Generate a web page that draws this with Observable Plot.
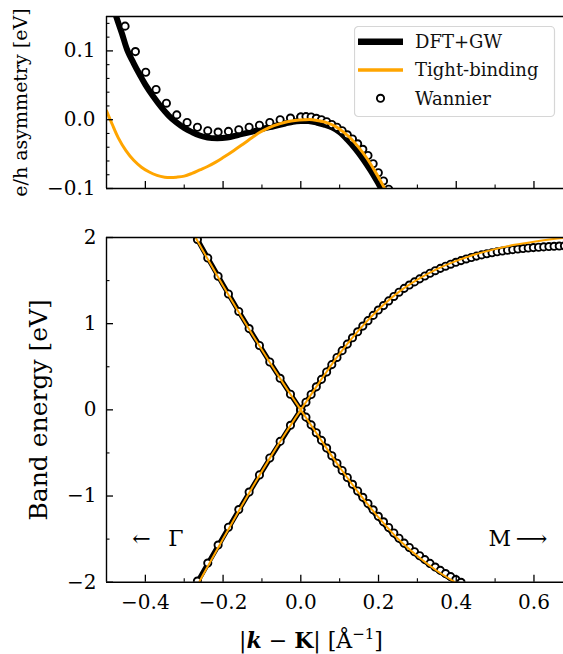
<!DOCTYPE html>
<html><head><meta charset="utf-8">
<script src="https://cdn.jsdelivr.net/npm/d3@7"></script>
<script src="https://cdn.jsdelivr.net/npm/@observablehq/plot@0.6"></script>
<style>
html,body{margin:0;padding:0;background:#fff;}
#wrap{position:relative;width:563px;height:654px;overflow:hidden;font-family:'DejaVu Serif',serif;}
#top{position:absolute;left:0;top:0;}
#bot{position:absolute;left:0;top:205px;}
#legend{position:absolute;left:354px;top:26px;}
svg text{font-family:'DejaVu Serif',serif;}
</style></head><body>
<div id="wrap"><div id="top"></div><div id="bot"></div><div id="legend"></div></div>
<script>
// ---------- axes ----------
const xDomain = [-0.5, 0.676];
const xMajor = [-0.4, -0.2, 0, 0.2, 0.4, 0.6];
const xMinor = [-0.3, -0.1, 0.1, 0.3, 0.5];
const asymDomain = [-0.1, 0.15];
const asymMajor = [-0.1, 0, 0.1];
const asymMinor = [-0.08, -0.06, -0.04, -0.02, 0.02, 0.04, 0.06, 0.08, 0.12, 0.14];
const bandDomain = [-2, 2];
const bandMajor = [-2, -1, 0, 1, 2];
const bandMinor = [-1.5, -0.5, 0.5, 1.5];
const seriesNames = ["DFT+GW", "Tight-binding", "Wannier"];

// ---------- top panel: e/h asymmetry ----------
const kAsymDft = [-0.49,-0.475,-0.46,-0.447,-0.43,-0.415,-0.40,-0.38,-0.36,-0.34,-0.32,-0.30,-0.28,-0.26,-0.24,-0.215,-0.19,-0.16,-0.13,-0.10,-0.07,-0.04,-0.02,0,0.02,0.04,0.06,0.08,0.10,0.12,0.14,0.16,0.18,0.20,0.22,0.24];
const asymDft = [0.178,0.150,0.125,0.102,0.082,0.066,0.051,0.034,0.019,0.006,-0.004,-0.012,-0.018,-0.023,-0.026,-0.027,-0.026,-0.022,-0.018,-0.0135,-0.0095,-0.0055,-0.003,-0.002,-0.002,-0.004,-0.007,-0.011,-0.018,-0.029,-0.042,-0.057,-0.074,-0.093,-0.113,-0.134];
const kAsymTb = [-0.50,-0.485,-0.47,-0.45,-0.43,-0.41,-0.39,-0.37,-0.35,-0.336,-0.32,-0.30,-0.28,-0.26,-0.24,-0.22,-0.20,-0.173,-0.15,-0.125,-0.104,-0.08,-0.055,-0.035,-0.015,0.01,0.03,0.05,0.07,0.09,0.11,0.13,0.15,0.17,0.19,0.21,0.23];
const asymTb = [0.013,-0.007,-0.026,-0.045,-0.059,-0.069,-0.076,-0.081,-0.0835,-0.084,-0.0835,-0.082,-0.078,-0.073,-0.068,-0.062,-0.055,-0.045,-0.036,-0.026,-0.018,-0.011,-0.006,-0.003,-0.001,0.0,0.0,-0.002,-0.005,-0.010,-0.018,-0.028,-0.041,-0.056,-0.074,-0.094,-0.114];
// Wannier k-points: K->Gamma side and K->M side
const kWanG = [0,-0.0266,-0.0532,-0.0798,-0.1064,-0.133,-0.1596,-0.1862,-0.2128,-0.2394,-0.266,-0.2926,-0.3192,-0.3458,-0.3724,-0.399,-0.4256,-0.4522,-0.4788];
const kWanM = [0,0.0133,0.0266,0.0399,0.0532,0.0665,0.0798,0.0931,0.1064,0.1197,0.133,0.1463,0.1596,0.1729,0.1862,0.1995,0.2128,0.2261,0.2394,0.2527,0.266,0.2793,0.2926,0.3059,0.3192,0.3325,0.3458,0.3591,0.3724,0.3857,0.399,0.4123,0.4256,0.4389,0.4522,0.4655,0.4788,0.4921,0.5054,0.5187,0.532,0.5453,0.5586,0.5719,0.5852,0.5985,0.6118,0.6251,0.6384,0.6517,0.665,0.6783];
const asymWanG = [0.004,0.0024,0.000,-0.004,-0.008,-0.011,-0.0145,-0.017,-0.018,-0.016,-0.011,-0.004,0.007,0.024,0.044,0.069,0.099,0.136,0.178];
const asymWanM = [0.004,0.0045,0.004,0.002,0.000,-0.003,-0.007,-0.011,-0.016,-0.022,-0.028,-0.035,-0.043,-0.052,-0.064,-0.077,-0.089,-0.101,-0.113];

// ---------- bottom panel: band energies ----------
const kBandG = [0,-0.04,-0.08,-0.12,-0.16,-0.20,-0.24,-0.28,-0.30];
const kBandM = [0,0.05,0.10,0.15,0.20,0.25,0.30,0.35,0.40,0.45,0.50,0.55,0.60,0.65,0.70];
const ecDftG = [0,0.274,0.556,0.847,1.145,1.452,1.767,2.09,2.255];
const evDftG = [0,-0.281,-0.568,-0.864,-1.167,-1.479,-1.793,-2.108,-2.267];
const ecDftM = [0,0.333,0.650,0.925,1.160,1.355,1.505,1.625,1.715,1.782,1.830,1.862,1.884,1.898,1.908];
const evDftM = [0,-0.339,-0.668,-0.974,-1.253,-1.495,-1.691,-1.855,-2.0,-2.13];
const ecTbG = [0,0.272,0.552,0.84,1.135,1.44,1.752,2.075,2.24];
const evTbG = [0,-0.275,-0.563,-0.864,-1.176,-1.495,-1.82,-2.153,-2.322];
const ecTbM = [0,0.334,0.652,0.928,1.164,1.36,1.51,1.632,1.728,1.805,1.865,1.915,1.952,1.982,2.005];
const evTbM = [0,-0.336,-0.666,-0.969,-1.248,-1.495,-1.695,-1.867,-2.008,-2.135];
const ecWanG = [0,0.181,0.366,0.555,0.747,0.943,1.142,1.345,1.551,1.762,1.976];
const evWanG = [0,-0.179,-0.366,-0.559,-0.755,-0.954,-1.157,-1.362,-1.569,-1.778,-1.987];
const ecWanM = [0,0.089,0.178,0.267,0.354,0.440,0.525,0.608,0.687,0.763,0.836,0.906,0.972,1.035,1.096,1.158,1.210,1.264,1.316,1.365,1.410,1.448,1.485,1.520,1.553,1.585,1.615,1.642,1.667,1.690,1.712,1.732,1.751,1.768,1.784,1.798,1.811,1.823,1.834,1.843,1.852,1.859,1.866,1.872,1.878,1.883,1.887,1.891,1.895,1.898,1.901,1.903];
const evWanM = [0,-0.0845,-0.174,-0.265,-0.354,-0.443,-0.532,-0.619,-0.703,-0.785,-0.864,-0.941,-1.015,-1.087,-1.160,-1.235,-1.299,-1.365,-1.429,-1.490,-1.547,-1.597,-1.646,-1.693,-1.738,-1.782,-1.824,-1.863,-1.900,-1.935,-1.969,-2.001];

// annotations (data coordinates)
const gammaLabel = {arrow: "←", name: "Γ", kArrow: -0.434, kName: -0.302, e: -1.5};
const mLabel = {name: "M", arrow: "⟶", kName: 0.483, kArrow: 0.634, e: -1.5};

// ---------- helpers ----------
const rows = (ks, es, branch) => es.map((e, i) => ({k: ks[i], e, branch}));
const black = "#000000", orange = "#FFA500";
const font = "'DejaVu Serif', serif";

const topDft = rows(kAsymDft, asymDft, "a");
const topTb = rows(kAsymTb, asymTb, "a");
const topWan = [...rows(kWanG, asymWanG, "g"), ...rows(kWanM, asymWanM, "m")];

const botDft = [...rows(kBandG, ecDftG, "cg"), ...rows(kBandM, ecDftM, "cm"), ...rows(kBandG, evDftG, "vg"), ...rows(kBandM, evDftM, "vm")];
const botTb = [...rows(kBandG, ecTbG, "cg"), ...rows(kBandM, ecTbM, "cm"), ...rows(kBandG, evTbG, "vg"), ...rows(kBandM, evTbM, "vm")];
const botWan = [...rows(kWanG, ecWanG, "cg"), ...rows(kWanM, ecWanM, "cm"), ...rows(kWanG, evWanG, "vg"), ...rows(kWanM, evWanM, "vm")];

const spine = {stroke: black, strokeWidth: 1.4};
const noText = () => "";

const topPlot = Plot.plot({
  width: 563, height: 205,
  marginTop: 16, marginBottom: 17, marginLeft: 106, marginRight: 0,
  style: {fontFamily: font, fontSize: "20px", background: "white", color: "black", overflow: "visible"},
  x: {domain: xDomain},
  y: {domain: asymDomain},
  marks: [
    Plot.line(topDft, {x: "k", y: "e", z: "branch", stroke: black, strokeWidth: 6, curve: "catmull-rom", clip: true}),
    Plot.dot(topWan, {x: "k", y: "e", r: 3.6, fill: "white", stroke: black, strokeWidth: 1.9, clip: true}),
    Plot.line(topTb, {x: "k", y: "e", z: "branch", stroke: orange, strokeWidth: 3, curve: "catmull-rom", clip: true}),
    Plot.ruleY([asymDomain[1]], spine),
    Plot.ruleY([asymDomain[0]], spine),
    Plot.ruleX([xDomain[0]], spine),
    Plot.axisY({ticks: asymMajor, tickSize: -7, tickPadding: 18, strokeWidth: 1.3, tickFormat: d3.format(".1f"), label: null}),
    Plot.axisY({ticks: asymMinor, tickSize: -3.5, strokeWidth: 1.1, tickFormat: noText, label: null}),
    Plot.axisX({ticks: xMajor, tickSize: -7, strokeWidth: 1.3, tickFormat: noText, label: null}),
    Plot.axisX({ticks: xMinor, tickSize: -3.5, strokeWidth: 1.1, tickFormat: noText, label: null}),
    Plot.text(["e/h asymmetry [eV]"], {text: d => d, frameAnchor: "left", textAnchor: "middle", lineAnchor: "middle", rotate: -90, dx: -85.5, fontSize: 19, fill: black})
  ]
});

const botPlot = Plot.plot({
  width: 563, height: 449,
  marginTop: 32, marginBottom: 72.3, marginLeft: 106, marginRight: 0,
  style: {fontFamily: font, fontSize: "20px", background: "white", color: "black", overflow: "visible"},
  x: {domain: xDomain},
  y: {domain: bandDomain},
  marks: [
    Plot.line(botDft, {x: "k", y: "e", z: "branch", stroke: black, strokeWidth: 5, curve: "catmull-rom", clip: true}),
    Plot.dot(botWan, {x: "k", y: "e", r: 3.6, fill: "white", stroke: black, strokeWidth: 1.9, clip: true}),
    Plot.line(botTb, {x: "k", y: "e", z: "branch", stroke: orange, strokeWidth: 2, curve: "catmull-rom", clip: true}),
    Plot.ruleY([bandDomain[1]], spine),
    Plot.ruleY([bandDomain[0]], spine),
    Plot.ruleX([xDomain[0]], spine),
    Plot.axisY({ticks: bandMajor, tickSize: -7, tickPadding: 17, strokeWidth: 1.3, tickFormat: d3.format("d"), label: null}),
    Plot.axisY({ticks: bandMinor, tickSize: -3.5, strokeWidth: 1.1, tickFormat: noText, label: null}),
    Plot.axisX({ticks: xMajor, tickSize: -7, tickPadding: 19.5, strokeWidth: 1.3, tickFormat: d3.format(".1f"), label: null}),
    Plot.axisX({ticks: xMinor, tickSize: -3.5, strokeWidth: 1.1, tickFormat: noText, label: null}),
    Plot.text(["Band energy [eV]"], {text: d => d, frameAnchor: "left", textAnchor: "middle", lineAnchor: "middle", rotate: -90, dx: -68, fontSize: 25, fill: black}),
    Plot.text([gammaLabel], {x: "kArrow", y: "e", text: "arrow", textAnchor: "start", fontSize: 22, fill: black}),
    Plot.text([gammaLabel], {x: "kName", y: "e", text: "name", textAnchor: "end", fontSize: 22, fill: black}),
    Plot.text([mLabel], {x: "kName", y: "e", text: "name", textAnchor: "start", fontSize: 22, fill: black}),
    Plot.text([mLabel], {x: "kArrow", y: "e", text: "arrow", textAnchor: "end", fontSize: 22, fill: black})
  ]
});

document.getElementById("top").appendChild(topPlot);
document.getElementById("bot").appendChild(botPlot);

// x-axis title with mixed styling
const t = d3.select(botPlot).append("text")
  .attr("x", 311).attr("y", 443).attr("text-anchor", "middle")
  .style("font-family", font).attr("font-size", 22).attr("fill", black);
t.append("tspan").text("|");
t.append("tspan").attr("font-weight", "bold").attr("font-style", "italic").text("k");
t.append("tspan").text(" − ");
t.append("tspan").attr("font-weight", "bold").text("K");
t.append("tspan").text("| [Å");
t.append("tspan").attr("font-size", 15).attr("dy", -9).text("−1");
t.append("tspan").attr("dy", 9).text("]");

// legend
const lg = d3.select("#legend").append("svg").attr("width", 202).attr("height", 92)
  .style("font-family", font);
lg.append("rect").attr("x", 0.5).attr("y", 0.5).attr("width", 200).attr("height", 90).attr("rx", 4)
  .attr("fill", "rgba(255,255,255,0.8)").attr("stroke", "#d6d6d6").attr("stroke-width", 1.2);
const rowY = [15.7, 44, 72.3];
lg.append("line").attr("x1", 4).attr("x2", 49).attr("y1", rowY[0]).attr("y2", rowY[0]).attr("stroke", black).attr("stroke-width", 6.5);
lg.append("line").attr("x1", 4).attr("x2", 49).attr("y1", rowY[1]).attr("y2", rowY[1]).attr("stroke", orange).attr("stroke-width", 3.5);
lg.append("circle").attr("cx", 26.5).attr("cy", rowY[2]).attr("r", 3.6).attr("fill", "white").attr("stroke", black).attr("stroke-width", 1.9);
seriesNames.forEach((s, i) => lg.append("text").attr("x", 61).attr("y", rowY[i]).attr("dy", "0.35em")
  .style("font-family", font).attr("font-size", 18).attr("fill", "#111").text(s));
</script>
</body></html>
